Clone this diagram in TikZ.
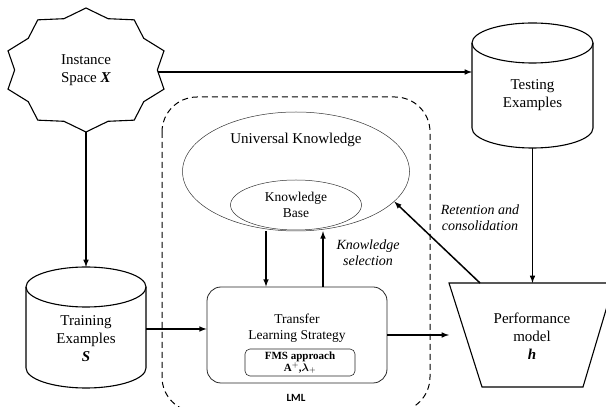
\documentclass[tikz,border=0pt]{standalone}
\usepackage{fontspec}
\setmainfont{Liberation Serif}
\newfontfamily\lmlfont{Carlito}
\usepackage{amsmath}
\usepackage{bm}
\usetikzlibrary{positioning,shapes,arrows,calc}

\begin{document}
\begin{tikzpicture}[x=1pt,y=1pt,
  line/.style={
    line width=1.1pt,
    draw=black,
  },
  arr/.style={line width=1.5pt, -latex},
  ell/.style={ellipse, draw=black!80, line width=0.5pt, inner sep=0pt},
  txt/.style={align=center, font=\fontsize{15}{18}\selectfont}]
  \useasboundingbox (0,0) rectangle (606,407);

  \draw[line] plot[samples at={0,1,...,19}, variable=\i]
    ({86+82*(1-0.13*mod(\i,2))*cos(90+18*\i)},
     {337+62*(1-0.13*mod(\i,2))*sin(90+18*\i)}) -- cycle;
  \node[txt] (inst) at (86,337) {Instance\\Space \textbf{\textit{X}}};
  \coordinate (instE) at (158,335);
  \coordinate (instS) at (86,275);

  \draw[line] (472,364) -- (472,279) arc[start angle=180, end angle=360,
    x radius=60.5, y radius=20] -- (593,364);
  \draw[line] (532.5,364) ellipse[x radius=60.5, y radius=20];
  \node[txt] (test) at (532.5,312) {Testing\\Examples};
  \coordinate (testW) at (472,335);
  \coordinate (testB) at (532.5,259);

  \draw[line] (26,120) -- (26,39) arc[start angle=180, end angle=360,
    x radius=60, y radius=20] -- (146,120);
  \draw[line] (86,120) ellipse[x radius=60, y radius=20];
  \node[txt] (train) at (86,68) {Training\\Examples\\\textbf{\textit{S}}};
  \coordinate (trainT) at (86,140);
  \coordinate (trainE) at (146,78);

  \draw[dashed, dash pattern=on 6pt off 4pt, line width=1pt, rounded corners=35]
    (162,310) rectangle (430,-5);
  \node[font=\lmlfont\bfseries\fontsize{11}{13}\selectfont] (lml) at (296,9) {LML};

  \node[ell, minimum width=227, minimum height=119] (univ) at (296,235.5) {};
  \node[txt] (univtxt) at (296,267) {Universal Knowledge};
  \node[ell, minimum width=131, minimum height=50, align=center,
    font=\fontsize{13.5}{16}\selectfont] (kb) at (296,202) {Knowledge\\Base};

  \node[draw=black!85, line width=0.8pt, rounded corners=14,
    minimum width=180, minimum height=96] (trans) at (297,72) {};
  \node[align=center, font=\fontsize{13.5}{16}\selectfont] (transtxt) at (297,79)
    {Transfer\\Learning Strategy};
  \node[draw=black!85, line width=0.6pt, rounded corners=5, minimum width=110,
    minimum height=27, inner sep=1pt, align=center,
    font=\bfseries\fontsize{11}{12}\selectfont] (fms) at (300,44.5)
    {FMS approach\\$\mathbf{A}^{+}$,$\bm{\lambda}_{+}$};

  \coordinate (perfTL) at (449,124);
  \coordinate (perfTR) at (614,124);
  \coordinate (perfBR) at (583,20);
  \coordinate (perfBL) at (482,20);
  \coordinate (perfR) at (480,124);
  \draw[line] (perfTL) -- (perfTR) -- (perfBR) -- (perfBL) -- cycle;
  \node[txt] (perf) at (532,71) {Performance\\model\\\textbf{\textit{h}}};

  \node[align=center, font=\itshape\fontsize{14}{16}\selectfont] (sel) at (368,154)
    {Knowledge\\selection};
  \node[align=center, font=\itshape\fontsize{14}{16}\selectfont] (ret) at (480,189)
    {Retention and\\consolidation};

  \draw[arr] (instE) -- (testW);
  \draw[arr] (instS) -- (trainT);
  \draw[arr] (trainE) -- (trainE -| trans.west);
  \draw[arr] (trans.east) -- (trans.east -| perfTL);
  \draw[arr] ([xshift=-30]univ.south) -- ([xshift=-31]trans.north);
  \draw[arr] ([xshift=26]trans.north) -- ([xshift=27]univ.south);
  \draw[arr] (testB) -- (testB |- perfTL);
  \draw[arr] (perfR) -- (univ.-17);
\end{tikzpicture}
\end{document}
